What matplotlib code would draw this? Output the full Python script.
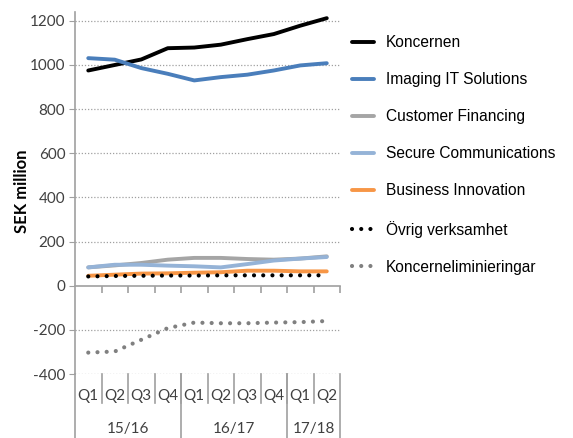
import matplotlib
matplotlib.use("Agg")
import matplotlib.pyplot as plt
from matplotlib.lines import Line2D
import numpy as np

quarters = ["Q1", "Q2", "Q3", "Q4", "Q1", "Q2", "Q3", "Q4", "Q1", "Q2"]
years = ["15/16", "16/17", "17/18"]
year_sizes = [4, 4, 2]

koncernen = [975, 1000, 1025, 1076, 1079, 1092, 1117, 1140, 1178, 1212]
imaging = [1031, 1024, 986, 960, 930, 945, 956, 975, 998, 1008]
customer_fin = [83, 92, 103, 118, 126, 126, 121, 118, 123, 133]
secure_comm = [83, 95, 95, 91, 88, 83, 98, 114, 123, 130]
business_inn = [45, 50, 55, 56, 59, 61, 68, 68, 65, 65]
ovrig = [42, 44, 45, 46, 46, 47, 47, 47, 47, 47]
elim = [-303, -298, -245, -192, -167, -170, -170, -167, -165, -160]

series = [
    ("Koncernen", koncernen, "#000000", "solid"),
    ("Imaging IT Solutions", imaging, "#4A7EBB", "solid"),
    ("Customer Financing", customer_fin, "#A5A5A5", "solid"),
    ("Secure Communications", secure_comm, "#95B3D7", "solid"),
    ("Business Innovation", business_inn, "#F79646", "solid"),
    ("Övrig verksamhet", ovrig, "#000000", "dot"),
    ("Koncerneliminieringar", elim, "#808080", "dot"),
]

tick_font = "Lato"
legend_font = "Liberation Sans"
text_col = "#404040"

fig = plt.figure(figsize=(5.73, 4.38), dpi=100)
ax = fig.add_axes([0.1309, 0.1461, 0.4625, 0.8265])

x = np.arange(len(quarters))
handles = []
for name, vals, col, style in series:
    if style == "solid":
        ln, = ax.plot(x, vals, color=col, lw=2.8, solid_capstyle="round",
                      solid_joinstyle="round", label=name, zorder=3)
    else:
        ln, = ax.plot(x, vals, color=col, lw=3.0, linestyle=(0, (0.01, 2.2)),
                      dash_capstyle="round", label=name, zorder=3)
    handles.append(ln)

ax.set_xlim(-0.5, len(quarters) - 0.5)
ax.set_ylim(-400, 1240)
ax.set_yticks(np.arange(-400, 1201, 200))
ax.set_yticklabels([str(v) for v in np.arange(-400, 1201, 200)],
                   fontfamily=tick_font, fontsize=11, color=text_col)
ax.tick_params(axis="y", direction="out", length=4, color="#A0A0A0", pad=3)

for v in np.arange(-400, 1201, 200):
    if v != 0:
        ax.axhline(v, color="#A0A0A0", lw=0.9, linestyle=(0, (1, 1.5)), zorder=1)

for s in ["top", "right"]:
    ax.spines[s].set_visible(False)
ax.spines["left"].set_color("#A0A0A0")
ax.spines["left"].set_linewidth(1.2)
ax.spines["bottom"].set_position(("data", 0))
ax.spines["bottom"].set_color("#A0A0A0")
ax.spines["bottom"].set_linewidth(1.2)
bounds = np.arange(len(quarters) + 1) - 0.5
ax.set_xticks(bounds[1:])
ax.set_xticklabels([])
ax.tick_params(axis="x", direction="out", length=5, color="#A0A0A0", width=1.2)

ax.set_ylabel("SEK million", fontfamily=tick_font, fontweight="bold",
              fontsize=12, color="#000000")
ax.yaxis.set_label_coords(-0.168, 0.505)

trans = ax.get_xaxis_transform()
ybot_axes = -0.146 / 0.8265  # figure bottom in axes coords
qrow_bottom = -0.080
for xi, q in zip(x, quarters):
    ax.text(xi, -0.062, q, transform=trans, ha="center", va="center",
            fontfamily=tick_font, fontsize=11, color=text_col)
for b in bounds[1:-1]:
    ax.add_line(Line2D([b, b], [0, qrow_bottom], transform=trans,
                       color="#A0A0A0", lw=1.2, clip_on=False))
start = 0
group_edges = [bounds[0]]
for yname, n in zip(years, year_sizes):
    center = (start + start + n - 1) / 2
    ax.text(center, -0.152, yname, transform=trans, ha="center", va="center",
            fontfamily=tick_font, fontsize=11, color=text_col)
    start += n
    group_edges.append(bounds[start])
for b in group_edges:
    ax.add_line(Line2D([b, b], [0, ybot_axes], transform=trans,
                       color="#A0A0A0", lw=1.2, clip_on=False))

leg = fig.legend(handles=handles, loc="upper left", bbox_to_anchor=(0.604, 0.934),
                 frameon=False, prop={"family": legend_font, "size": 11.2},
                 handlelength=1.4, handletextpad=0.75, labelspacing=1.42,
                 borderaxespad=0)

fig.savefig("out.png", dpi=100)
